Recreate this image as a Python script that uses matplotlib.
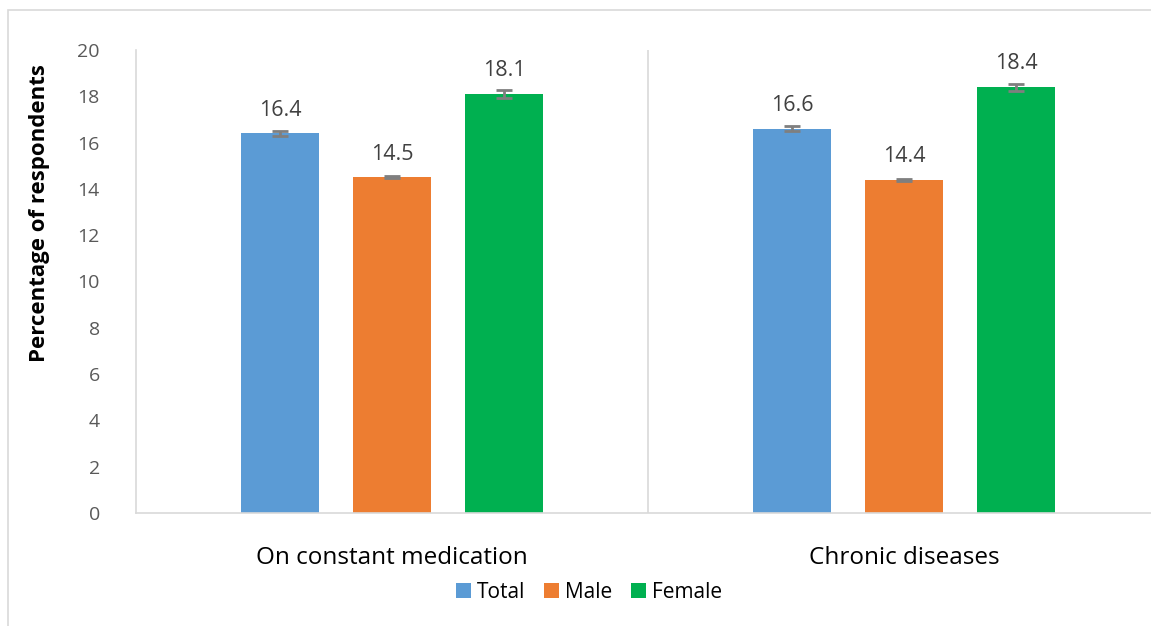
import numpy as np
import matplotlib
matplotlib.use("Agg")
from matplotlib import pyplot as plt
from matplotlib.patches import Rectangle

plt.rcParams['font.family'] = ['Open Sans', 'DejaVu Sans']

categories = ['On constant medication', 'Chronic diseases']
series = ['Total', 'Male', 'Female']
values = {
    'Total': [16.4, 16.6],
    'Male': [14.5, 14.4],
    'Female': [18.1, 18.4],
}
errors = {
    'Total': [0.1, 0.1],
    'Male': [0.04, 0.04],
    'Female': [0.16, 0.15],
}
colors = {'Total': '#5b9bd5', 'Male': '#ed7d31', 'Female': '#00b050'}

W, H = 1151, 626
fig = plt.figure(figsize=(W / 100, H / 100), dpi=100)

# outer chart border (cropped on right/bottom in the original)
fig.patches.append(Rectangle((8 / W, -0.1), 1.2, (H - 10) / H + 0.1, transform=fig.transFigure,
                             fill=False, edgecolor='#d9d9d9', linewidth=1.2))

ax = fig.add_axes([136 / W, (H - 513) / H, 1024 / W, 463 / H])
x = np.arange(len(categories))
offset = 112 / 512
width = 78 / 512

for i, s in enumerate(series):
    pos = x + (i - 1) * offset
    ax.bar(pos, values[s], width, color=colors[s], label=s, zorder=2)
    ax.errorbar(pos, values[s], yerr=errors[s], fmt='none', ecolor='#7f7f7f',
                elinewidth=2, capsize=6, capthick=2, zorder=3)
    for px, v in zip(pos, values[s]):
        ax.text(px, v + 0.55, f'{v:.1f}', ha='center', va='bottom',
                fontsize=15.5, color='#404040')

ax.axvline(0.5, color='#d9d9d9', linewidth=1.2, zorder=1)
ax.set_xlim(-0.5, 1.5)
ax.set_ylim(0, 20)
ax.set_yticks(np.arange(0, 21, 2))
ax.set_xticks(x)
ax.set_xticklabels(categories, fontsize=17.5, color='black')
ax.tick_params(axis='x', length=0, pad=24)
ax.tick_params(axis='y', length=0, pad=26, labelsize=14, labelcolor='#595959')
for sp in ['top', 'right']:
    ax.spines[sp].set_visible(False)
for sp in ['left', 'bottom']:
    ax.spines[sp].set_color('#d9d9d9')
    ax.spines[sp].set_linewidth(1.2)

fig.text(40 / W, 1 - 213 / H, 'Percentage of respondents', rotation=90, ha='center',
         va='center', fontsize=16, fontweight='bold', color='black')

fig.legend(loc='center', bbox_to_anchor=(589 / W, 1 - 592 / H), ncol=3, frameon=False,
           fontsize=15, handlelength=0.7, handleheight=0.7, handletextpad=0.3,
           columnspacing=0.9)

fig.savefig('out.png', dpi=100)
